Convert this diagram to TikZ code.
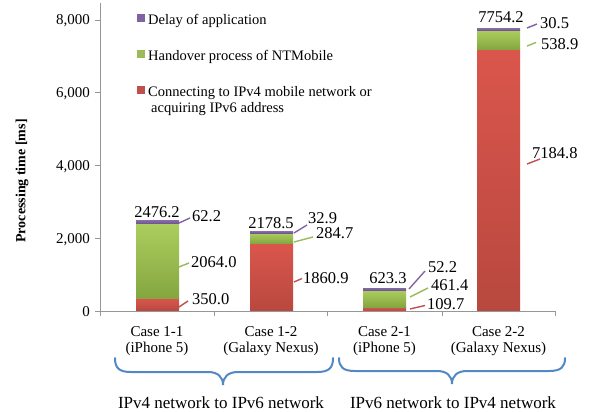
\documentclass[tikz,border=0pt]{standalone}
\usepackage{fontspec}
\setmainfont{Liberation Serif}
\definecolor{redtop}{RGB}{218,86,76}
\definecolor{redbot}{RGB}{184,72,63}
\definecolor{grntop}{RGB}{172,206,94}
\definecolor{grnbot}{RGB}{132,166,64}
\definecolor{purtop}{RGB}{132,104,166}
\definecolor{purbot}{RGB}{112,88,148}
\definecolor{redln}{RGB}{192,80,77}
\definecolor{grnln}{RGB}{155,187,89}
\definecolor{purln}{RGB}{128,100,162}
\definecolor{axisgray}{RGB}{150,150,150}
\definecolor{bracebl}{RGB}{84,136,196}
\begin{document}
\begin{tikzpicture}[x=1pt,y=-1pt,
  redseg/.style={top color=redtop,bottom color=redbot},
  grnseg/.style={top color=grntop,bottom color=grnbot},
  purseg/.style={top color=purtop,bottom color=purbot},
  lead/.style={line width=1.4pt},
  leadr/.style={lead,draw=redln},
  leadg/.style={lead,draw=grnln},
  leadp/.style={lead,draw=purln},
  val/.style={inner sep=0pt,font=\fontsize{16.5}{18}\selectfont},
  ticklbl/.style={inner sep=0pt,anchor=base east,font=\fontsize{15}{17}\selectfont},
  catlbl/.style={inner sep=0pt,anchor=base,font=\fontsize{15}{17}\selectfont},
  leglbl/.style={inner sep=0pt,anchor=base west,font=\fontsize{14.5}{16}\selectfont},
  grplbl/.style={inner sep=0pt,anchor=base,font=\fontsize{17}{19}\selectfont},
  axisln/.style={draw=axisgray,line width=0.9pt},
  bracestyle/.style={draw=bracebl,line width=2pt,line cap=round}]
\useasboundingbox (0,0) rectangle (589,412);

% stacked bars: red bottom, green middle, purple top
\shade[redseg] (136,311) rectangle (179,298.3);
\shade[grnseg] (136,298.3) rectangle (179,223.2);
\shade[purseg] (136,223.2) rectangle (179,220.6);

\shade[redseg] (250,311) rectangle (293,243.3);
\shade[grnseg] (250,243.3) rectangle (293,233.0);
\shade[purseg] (250,233.0) rectangle (293,231.4);

\shade[redseg] (363,311) rectangle (406,307.0);
\shade[grnseg] (363,307.0) rectangle (406,290.2);
\shade[purseg] (363,290.2) rectangle (406,288.0);

\shade[redseg] (477,311) rectangle (520,49.6);
\shade[grnseg] (477,49.6) rectangle (520,30.1);
\shade[purseg] (477,30.1) rectangle (520,28.6);

% axes
\coordinate (ytop) at (100,3);
\coordinate (orig) at (100,311);
\coordinate (xend) at (555,311);
\draw[axisln] (ytop) -- (orig) -- (xend);
\foreach \yy in {20,92.75,165.5,238.25,311}
  \draw[axisln] (95,\yy) -- (100,\yy);
\foreach \xx in {100,214,327,442,555}
  \draw[axisln] (\xx,311) -- (\xx,316);

% tick labels
\node[ticklbl] (t0) at (90,316) {0};
\node[ticklbl] (t2) at (90,243.3) {2,000};
\node[ticklbl] (t4) at (90,170.5) {4,000};
\node[ticklbl] (t6) at (90,97.8) {6,000};
\node[ticklbl] (t8) at (90,25) {8,000};

% axis title
\node[inner sep=0pt,rotate=90,font=\fontsize{14}{16}\selectfont\bfseries] (ytitle) at (22,181) {Processing time [ms]};

% legend
\fill[purln] (137,14) rectangle (145,22);
\fill[grnln] (137,50) rectangle (145,58);
\fill[redln] (137,86) rectangle (145,94);
\node[leglbl] (lg1) at (148,24.5) {Delay of application};
\node[leglbl] (lg2) at (148,60.5) {Handover process of NTMobile};
\node[leglbl] (lg3) at (148,96.5) {Connecting to IPv4 mobile network or};
\node[leglbl] (lg4) at (151,112) {acquiring IPv6 address};

% totals
\node[val,anchor=base] (tot11) at (157,217) {2476.2};
\node[val,anchor=base] (tot12) at (271,228) {2178.5};
\node[val,anchor=base] (tot21) at (388,283) {623.3};
\node[val,anchor=base] (tot22) at (501,23) {7754.2};

% segment values with leader lines
\node[val,anchor=base west] (v11p) at (192,221) {62.2};
\node[val,anchor=base west] (v11g) at (191,267) {2064.0};
\node[val,anchor=base west] (v11r) at (192,304) {350.0};
\coordinate (a11p) at (179,223); \coordinate (e11p) at (190,218);
\coordinate (a11g) at (179,267); \coordinate (e11g) at (189,263);
\coordinate (a11r) at (179,307); \coordinate (e11r) at (188,301);
\draw[leadp] (a11p) -- (e11p);
\draw[leadg] (a11g) -- (e11g);
\draw[leadr] (a11r) -- (e11r);

\node[val,anchor=base west] (v12p) at (308,223) {32.9};
\node[val,anchor=base west] (v12g) at (316,238) {284.7};
\node[val,anchor=base west] (v12r) at (303,283) {1860.9};
\coordinate (a12p) at (294,233); \coordinate (e12p) at (307,225);
\coordinate (a12g) at (294,242); \coordinate (e12g) at (313,237);
\coordinate (a12r) at (294,282); \coordinate (e12r) at (302,278.5);
\draw[leadp] (a12p) -- (e12p);
\draw[leadg] (a12g) -- (e12g);
\draw[leadr] (a12r) -- (e12r);

\node[val,anchor=base west] (v21p) at (428,272.5) {52.2};
\node[val,anchor=base west] (v21g) at (431,290.5) {461.4};
\node[val,anchor=base west] (v21r) at (427,309) {109.7};
\coordinate (a21p) at (409,289); \coordinate (e21p) at (425,271);
\coordinate (a21g) at (410,297); \coordinate (e21g) at (428,288);
\coordinate (a21r) at (410,309); \coordinate (e21r) at (425,305.5);
\draw[leadp] (a21p) -- (e21p);
\draw[leadg] (a21g) -- (e21g);
\draw[leadr] (a21r) -- (e21r);

\node[val,anchor=base west] (v22p) at (540,29) {30.5};
\node[val,anchor=base west] (v22g) at (541,49) {538.9};
\node[val,anchor=base west] (v22r) at (532,158) {7184.8};
\coordinate (a22p) at (527,28); \coordinate (e22p) at (537,24);
\coordinate (a22g) at (527,46); \coordinate (e22g) at (536,42.5);
\coordinate (a22r) at (527,164); \coordinate (e22r) at (540,159);
\draw[leadp] (a22p) -- (e22p);
\draw[leadg] (a22g) -- (e22g);
\draw[leadr] (a22r) -- (e22r);

% category labels
\node[catlbl] (c11a) at (157,336) {Case 1-1};
\node[catlbl] (c11b) at (157,352) {(iPhone 5)};
\node[catlbl] (c12a) at (271,336) {Case 1-2};
\node[catlbl] (c12b) at (271,352) {(Galaxy Nexus)};
\node[catlbl] (c21a) at (384.5,336) {Case 2-1};
\node[catlbl] (c21b) at (384.5,352) {(iPhone 5)};
\node[catlbl] (c22a) at (498.5,336) {Case 2-2};
\node[catlbl] (c22b) at (498.5,352) {(Galaxy Nexus)};

% group braces
\coordinate (bl1) at (115,358); \coordinate (bt1) at (223,385); \coordinate (br1) at (333,358);
\draw[bracestyle] (bl1) .. controls (115,368) and (119,372) .. (131,372)
  -- (208,372) .. controls (218,372) and (223,377) .. (bt1)
  .. controls (223,377) and (228,372) .. (238,372)
  -- (317,372) .. controls (329,372) and (333,368) .. (br1);
\coordinate (bl2) at (339,358); \coordinate (bt2) at (452,384); \coordinate (br2) at (565,358);
\draw[bracestyle] (bl2) .. controls (339,367) and (343,371) .. (355,371)
  -- (437,371) .. controls (447,371) and (452,376) .. (bt2)
  .. controls (452,376) and (457,371) .. (467,371)
  -- (549,371) .. controls (561,371) and (565,367) .. (br2);

% group labels
\node[grplbl] (g1) at (221,408) {IPv4 network to IPv6 network};
\node[grplbl] (g2) at (453,408) {IPv6 network to IPv4 network};
\end{tikzpicture}
\end{document}
